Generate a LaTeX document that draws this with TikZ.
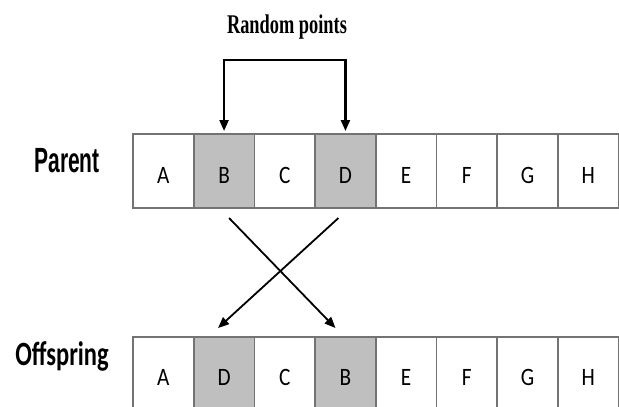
\documentclass[tikz,border=0pt]{standalone}
\usepackage{fontspec}
\usepackage{graphicx}
\setmainfont{Carlito}
\newfontfamily\labfont{Liberation Sans}
\newfontfamily\serffont{Liberation Serif}
\usetikzlibrary{arrows.meta,calc}
\newcommand{\sqz}[2]{\scalebox{#1}[1]{#2}}
\tikzset{
  cell/.style={rectangle, draw=black!55, line width=1.6pt, fill=white,
    minimum width=60.7pt, minimum height=#1, inner sep=0pt, outer sep=0pt,
    text height=24pt, text depth=0pt,
    font=\fontsize{25}{27}\selectfont},
  gcell/.style={cell=#1, fill=black!25},
  tip/.style={-{Triangle[length=11pt,width=9pt]}},
  conn/.style={line width=1.8pt, black, tip},
}
\begin{document}
\begin{tikzpicture}[x=1pt,y=-1pt]
\useasboundingbox (0,0) rectangle (619,407);
% parent row
\foreach \l/\s [count=\i] in {A/cell,B/gcell,C/cell,D/gcell,E/cell,F/cell,G/cell,H/cell}{
  \node[\s=74pt] (p\i) at ({133+60.7*(\i-1)+30.35},171) {\sqz{0.85}{\l}};
}
% offspring row
\foreach \l/\s [count=\i] in {A/cell,D/gcell,C/cell,B/gcell,E/cell,F/cell,G/cell,H/cell}{
  \node[\s=72pt] (o\i) at ({133+60.7*(\i-1)+30.35},373) {\sqz{0.85}{\l}};
}
% labels
\node[anchor=base, inner sep=0pt] (title) at (287,33)
  {\serffont\bfseries\fontsize{27}{30}\selectfont\sqz{0.68}{Random points}};
\node[anchor=base, inner sep=0pt] (plab) at (67,172)
  {\labfont\bfseries\fontsize{35}{40}\selectfont\sqz{0.6}{Parent}};
\node[anchor=base, inner sep=0pt] (olab) at (62,365)
  {\bfseries\fontsize{34}{38}\selectfont\sqz{0.72}{Offspring}};
% random points connector
\coordinate (top) at (0,60);
\draw[line width=2.2pt, {Triangle[length=11pt,width=9pt]}-{Triangle[length=11pt,width=9pt]}]
  ($(p2.north)+(0,-3)$) -- (p2.north |- top) -- (p4.north |- top) -- ($(p4.north)+(0,-3)$);
% crossing arrows
\draw[conn] ($(p2.south)+(5,10)$) -- ($(o4.north)+(-10,-9)$);
\draw[conn] ($(p4.south)+(-7,10)$) -- ($(o2.north)+(-6,-9)$);
\end{tikzpicture}
\end{document}
